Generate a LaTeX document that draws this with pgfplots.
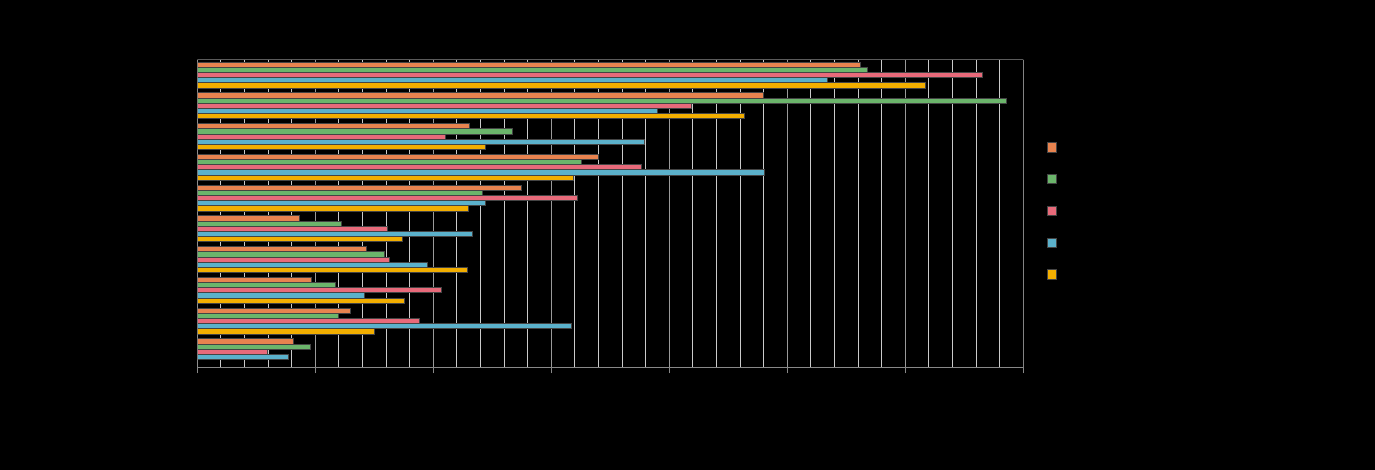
\documentclass[border=0pt]{standalone}
\usepackage{pgfplots}
\pgfplotsset{compat=1.18}
\definecolor{cOrange}{HTML}{E8834F}
\definecolor{cGreen}{HTML}{6BB56B}
\definecolor{cPink}{HTML}{E86A7A}
\definecolor{cBlue}{HTML}{5BB1CB}
\definecolor{cYellow}{HTML}{F2AE00}
\definecolor{cStroke}{HTML}{444444}
\definecolor{cAxis}{HTML}{888888}
\definecolor{cFrame}{HTML}{5A5A5A}
\definecolor{cGridMajor}{HTML}{9A9A9A}
\definecolor{cGridMinor}{HTML}{CACACA}
\begin{document}
\begin{tikzpicture}
\useasboundingbox (0bp,0bp) rectangle (1375bp,470bp);
\fill[black] (0bp,0bp) rectangle (1375bp,470bp);
\begin{axis}[
  at={(197.3bp,102.7bp)}, anchor=south west,
  scale only axis, width=826bp, height=307.6bp,
  xmin=0, xmax=70, ymin=-0.5, ymax=9.5,
  enlargelimits=false,
  xtick distance=10, minor x tick num=4,
  xticklabel={}, ytick=\empty,
  xmajorgrids, xminorgrids,
  major grid style={draw=cGridMajor, line width=1bp},
  minor grid style={draw=cGridMinor, line width=1bp},
  axis line style={draw=none},
  tick align=outside, xtick pos=lower,
  major tick length=6bp, minor tick length=0pt,
  major tick style={draw=cAxis, line width=1bp},
  xbar=0pt, bar width=5.2bp,
  every axis plot/.append style={draw=cStroke, line width=1bp},
  legend image code/.code={\draw[#1] (0bp,-4.7bp) rectangle (9.4bp,4.7bp);},
  legend style={at={(1.0285,0.7321)}, anchor=north west, draw=none, fill=none,
    inner sep=0pt, row sep=21.35bp, column sep=0pt, nodes={inner sep=0pt}},
]
\addplot[fill=cOrange, bar shift=10.4bp] coordinates {
 (56.19,9) (47.97,8) (23.05,7) (33.98,6) (27.50,5) (8.64,4) (14.30,3) (9.66,2) (13.00,1) (8.14,0)};
\addlegendentry{\mbox{}}
\addplot[fill=cGreen, bar shift=5.2bp] coordinates {
 (56.78,9) (68.56,8) (26.75,7) (32.54,6) (24.15,5) (12.20,4) (15.90,3) (11.70,2) (12.00,1) (9.58,0)};
\addlegendentry{\mbox{}}
\addplot[fill=cPink, bar shift=0bp] coordinates {
 (66.53,9) (41.86,8) (21.00,7) (37.63,6) (32.26,5) (16.10,4) (16.30,3) (20.70,2) (18.80,1) (5.93,0)};
\addlegendentry{\mbox{}}
\addplot[fill=cBlue, bar shift=-5.2bp] coordinates {
 (53.39,9) (38.98,8) (37.88,7) (48.05,6) (24.40,5) (23.30,4) (19.50,3) (14.20,2) (31.75,1) (7.71,0)};
\addlegendentry{\mbox{}}
\addplot[fill=cYellow, bar shift=-10.4bp] coordinates {
 (61.69,9) (46.36,8) (24.40,7) (31.86,6) (22.97,5) (17.40,4) (22.90,3) (17.60,2) (15.00,1)};
\addlegendentry{\mbox{}}
\draw[cAxis, line width=1bp] (rel axis cs:0,1) -- (rel axis cs:0,0) -- (rel axis cs:1,0);
\draw[cFrame, line width=1bp] (rel axis cs:0,1) -- (rel axis cs:1,1) -- (rel axis cs:1,0);
\end{axis}
\end{tikzpicture}
\end{document}
